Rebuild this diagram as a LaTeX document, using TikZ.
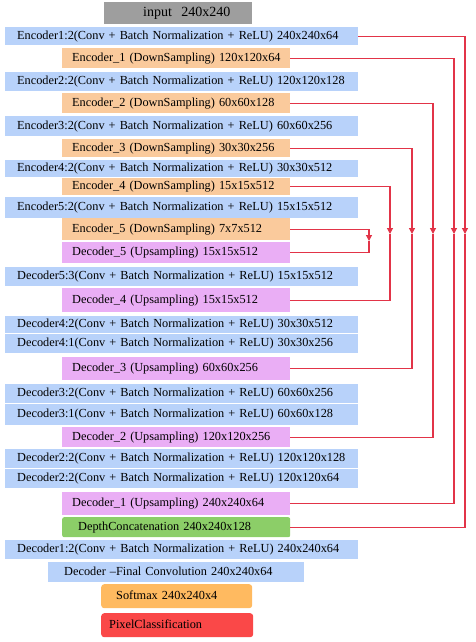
\documentclass[tikz,border=0pt]{standalone}
\usepackage{fontspec}
\setmainfont{Liberation Serif}
\usetikzlibrary{arrows.meta}
\definecolor{convblue}{RGB}{184,210,250}
\definecolor{downorange}{RGB}{250,202,156}
\definecolor{upviolet}{RGB}{234,174,245}
\definecolor{catgreen}{RGB}{140,206,104}
\definecolor{softorange}{RGB}{255,186,96}
\definecolor{pixred}{RGB}{250,72,72}
\definecolor{inputgray}{RGB}{158,158,158}
\definecolor{skipred}{RGB}{226,52,72}
% name, style, x, y (top left), height, text
\newcommand{\layer}[6]{\node[#2, minimum height=#5] (#1) at (#3,#4) {\mbox{#6}};}

\begin{document}
\begin{tikzpicture}[x=1pt, y=-1pt, font=\fontsize{12.3}{14}\selectfont,
    box/.style={anchor=north west, align=left, inner ysep=0pt, text height=8.5pt, text depth=2.5pt},
    inbox/.style={box, fill=inputgray, inner xsep=0pt, text width=148pt, font=\fontsize{14}{16}\selectfont},
    convbox/.style={box, fill=convblue, inner xsep=12pt, text width=329pt},
    downbox/.style={box, fill=downorange, inner xsep=10pt, text width=208pt},
    upbox/.style={box, fill=upviolet, inner xsep=10pt, text width=208pt},
    catbox/.style={box, fill=catgreen, rounded corners=2pt, inner xsep=16pt, text width=196pt},
    finalbox/.style={box, fill=convblue, inner xsep=16pt, text width=224pt},
    softbox/.style={box, fill=softorange, rounded corners=3pt, inner xsep=15pt, text width=121pt},
    pixbox/.style={box, fill=pixred, rounded corners=3pt, inner xsep=8pt, text width=136pt},
    skip/.style={draw=skipred, line width=1.2pt, -{Triangle[width=6pt,length=6pt]}},
    link/.style={draw=skipred, line width=1.2pt}]
\useasboundingbox (0,0) rectangle (476,642);
% encoder
\layer{inp}{inbox}{104}{2}{22}{\hspace*{39pt}input\ \ 240x240}
\layer{enc12}{convbox}{5}{27}{18}{Encoder1:2(Conv + Batch Normalization + ReLU) 240x240x64}
\layer{enc1}{downbox}{62}{48}{20}{Encoder\_1 (DownSampling) 120x120x64}
\layer{enc22}{convbox}{5}{72}{19}{Encoder2:2(Conv + Batch Normalization + ReLU) 120x120x128}
\layer{enc2}{downbox}{62}{93}{20}{Encoder\_2 (DownSampling) 60x60x128}
\layer{enc32}{convbox}{5}{116}{20}{Encoder3:2(Conv + Batch Normalization + ReLU) 60x60x256}
\layer{enc3}{downbox}{62}{139}{18}{Encoder\_3 (DownSampling) 30x30x256}
\layer{enc42}{convbox}{5}{160}{17}{Encoder4:2(Conv + Batch Normalization + ReLU) 30x30x512}
\layer{enc4}{downbox}{62}{178}{17}{Encoder\_4 (DownSampling) 15x15x512}
\layer{enc52}{convbox}{5}{197}{21}{Encoder5:2(Conv + Batch Normalization + ReLU) 15x15x512}
\layer{enc5}{downbox}{62}{218}{22}{Encoder\_5 (DownSampling) 7x7x512}
% decoder
\layer{dec5}{upbox}{62}{242}{21}{Decoder\_5 (Upsampling) 15x15x512}
\layer{dec53}{convbox}{5}{267}{19}{Decoder5:3(Conv + Batch Normalization + ReLU) 15x15x512}
\layer{dec4}{upbox}{62}{288}{24}{Decoder\_4 (Upsampling) 15x15x512}
\layer{dec42}{convbox}{5}{316}{17}{Decoder4:2(Conv + Batch Normalization + ReLU) 30x30x512}
\layer{dec41}{convbox}{5}{334}{19}{Decoder4:1(Conv + Batch Normalization + ReLU) 30x30x256}
\layer{dec3}{upbox}{62}{357}{23}{Decoder\_3 (Upsampling) 60x60x256}
\layer{dec32}{convbox}{5}{384}{19}{Decoder3:2(Conv + Batch Normalization + ReLU) 60x60x256}
\layer{dec31}{convbox}{5}{404}{21}{Decoder3:1(Conv + Batch Normalization + ReLU) 60x60x128}
\layer{dec2}{upbox}{62}{427}{20}{Decoder\_2 (Upsampling) 120x120x256}
\layer{dec22}{convbox}{5}{449}{19}{Decoder2:2(Conv + Batch Normalization + ReLU) 120x120x128}
\layer{dec21}{convbox}{5}{469}{19}{Decoder2:2(Conv + Batch Normalization + ReLU) 120x120x64}
\layer{dec1}{upbox}{62}{492}{23}{Decoder\_1 (Upsampling) 240x240x64}
\layer{cat}{catbox}{62}{517}{20}{DepthConcatenation 240x240x128}
\layer{dec12}{convbox}{5}{540}{19}{Decoder1:2(Conv + Batch Normalization + ReLU) 240x240x64}
\layer{final}{finalbox}{48}{562}{20}{Decoder –Final Convolution 240x240x64}
\layer{soft}{softbox}{101}{584}{24}{Softmax 240x240x4}
\layer{pix}{pixbox}{101}{613}{24}{PixelClassification}
% skip connections
\coordinate (s1) at (465,234);
\coordinate (s2) at (454,234);
\coordinate (s3) at (433,234);
\coordinate (s4) at (412,234);
\coordinate (s5) at (390,234);
\coordinate (s6) at (369,241);
\draw[skip] (enc12.east) -| (s1);
\draw[link] (s1) |- (cat.east);
\draw[skip] (enc1.east) -| (s2);
\draw[link] (s2) |- (dec1.east);
\draw[skip] (enc2.east) -| (s3);
\draw[link] (s3) |- (dec2.east);
\draw[skip] (enc3.east) -| (s4);
\draw[link] (s4) |- (dec3.east);
\draw[skip] (enc4.east) -| (s5);
\draw[link] (s5) |- (dec4.east);
\draw[skip] (enc5.east) -| (s6);
\draw[link] (s6) |- (dec5.east);
\end{tikzpicture}
\end{document}
